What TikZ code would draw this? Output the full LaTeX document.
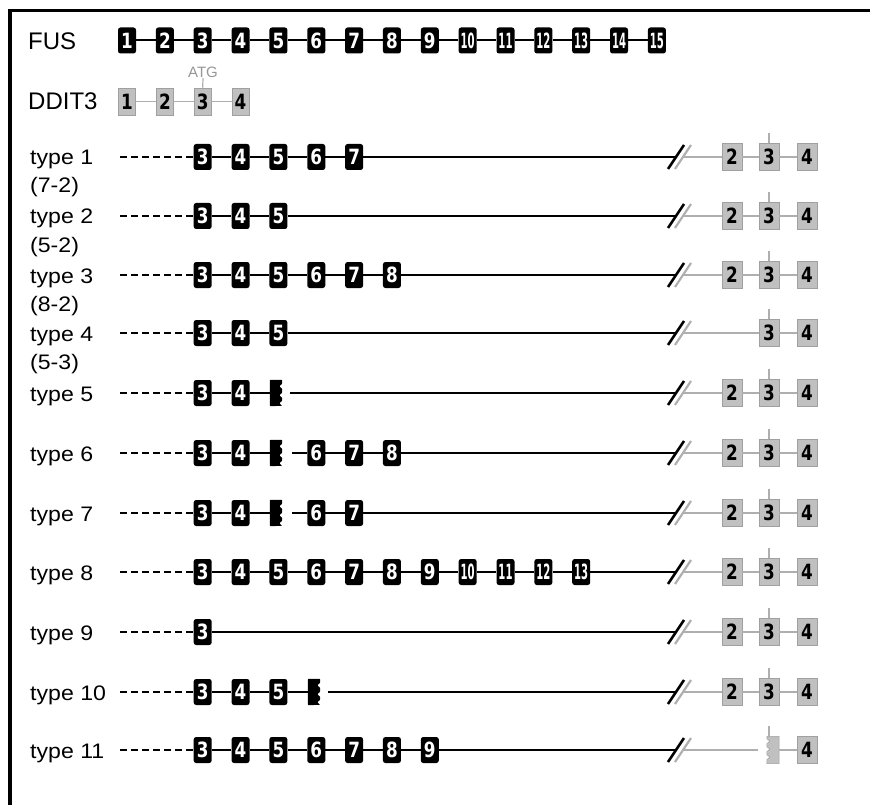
\documentclass[tikz,border=0pt]{standalone}
\usepackage{fontspec}
\setmainfont{Liberation Sans}
\newfontfamily\numfont[FakeStretch=0.8]{DejaVu Sans}
\newfontfamily\numfontn[FakeStretch=0.48]{DejaVu Sans}
\newfontfamily\labfont[FakeStretch=1.1]{Liberation Sans}
\definecolor{gbox}{RGB}{192,192,192}
\definecolor{gedge}{RGB}{160,160,160}
\definecolor{glinec}{RGB}{175,175,175}
\definecolor{atgc}{RGB}{150,150,150}
\newcommand\dg[1]{\ifnum#1>9 {\numfontn\bfseries #1}\else #1\fi}
\newcommand\exrow[5]{%
  \foreach \k in {#3,...,#5} \node[fexon] (#1e\k) at ({127+37.85*(\k-1)},#2) {\dg{\k}};
  \foreach \k [remember=\k as \p (initially #3)] in {#4,...,#5} \draw[conn] (#1e\p) -- (#1e\k);
}
\newcommand\startrow[3]{%
  \node[lab] (#1lab) at (30,{#2+8}) {#3};
  \coordinate (#1a) at (120,#2);
}
\newcommand\sublab[3]{\node[lab] (#1sub) at (30,{#2+36}) {#3};}
\newcommand\brk[2]{%
  \coordinate (#1bk) at (676,#2);
  \coordinate (#1bg) at (683,#2);
  \coordinate (#1s1) at (668,{#2+12}); \coordinate (#1s2) at (684,{#2-12});
  \coordinate (#1s3) at (675,{#2+12}); \coordinate (#1s4) at (691,{#2-12});
  \draw[brkb] (#1s1) -- (#1s2);
  \draw[brkg] (#1s3) -- (#1s4);
}
\newcommand\ddtail[2]{%
  \node[dexon] (#1d2) at (732,#2) {2};
  \node[dexon] (#1d3) at (769,#2) {3};
  \node[dexon] (#1d4) at (807,#2) {4};
  \draw[gln] (#1bg) -- (#1d2) -- (#1d3) -- (#1d4);
  \coordinate (#1tk) at (769,{#2-24});
  \draw[gln] (#1d3.north) -- (#1tk);
}
\newcommand\torn[1]{%
  \fill[black, rounded corners=0.8pt] (#1.north west) -- (#1.north east) -- ++(0,4) -- ++(-3,2.5) -- ++(3,2.5) -- ++(0,4) -- ++(-3,2.5) -- ++(3,2.5) -- ++(0,3) -- ++(-3,2.5) -- ++(3,2.5) -- (#1.south west) -- cycle;}
\newcommand\torng[1]{%
  \filldraw[fill=gbox, draw=gedge, line width=0.5pt] (#1.north east) -- (#1.south east) -- (#1.south west) -- ++(0,-4) -- ++(3,-2.5) -- ++(-3,-2.5) -- ++(0,-3) -- ++(3,-2.5) -- ++(-3,-2.5) -- ++(0,-3) -- ++(3,-2.5) -- ++(-3,-2.5) -- (#1.north west) -- cycle;}
\begin{document}
\begin{tikzpicture}[x=1pt,y=-1pt,
  fexon/.style={rectangle, fill=black, rounded corners=2.5pt, minimum width=18pt, minimum height=26pt, inner sep=0pt, text=white, font=\numfont\bfseries\fontsize{21}{21}\selectfont},
  dexon/.style={rectangle, fill=gbox, draw=gedge, line width=0.5pt, minimum width=20pt, minimum height=27pt, inner sep=0pt, text=black, font=\numfont\bfseries\fontsize{21}{21}\selectfont},
  dexons/.style={dexon, minimum width=17pt},
  lab/.style={anchor=base west, inner sep=0pt, font=\labfont\fontsize{21}{24}\selectfont},
  biglab/.style={anchor=base west, inner sep=0pt, font=\fontsize{24}{28}\selectfont},
  conn/.style={line width=2pt},
  mainln/.style={line width=2.6pt},
  dashln/.style={line width=2pt, dash pattern=on 6.5pt off 4.5pt},
  gln/.style={line width=1.8pt, draw=glinec},
  brkb/.style={line width=2.6pt},
  brkg/.style={line width=2.2pt, draw=glinec},
  trunc/.style={rectangle, minimum width=12pt, minimum height=26pt, inner sep=0pt},
  truncg/.style={rectangle, minimum width=12pt, minimum height=27pt, inner sep=0pt}]
\useasboundingbox (0,0) rectangle (870,805);
% frame
\coordinate (fa) at (10,805); \coordinate (fb) at (10,10.5); \coordinate (fc) at (870,10.5);
\draw[line width=3.5pt] (fa) -- (fb) -- (fc);
% FUS
\node[biglab] (fus) at (28,50) {FUS};
\exrow{f}{40.5}{1}{2}{15}
% DDIT3
\node[biglab] (ddit) at (28,110) {DDIT3};
\foreach \k in {1,...,4} \node[dexons] (d\k) at ({127+37.85*(\k-1)},101.5) {\k};
\draw[gln] (d1) -- (d2) -- (d3) -- (d4);
\node[text=atgc, font=\fontsize{15}{15}\selectfont, inner sep=0pt] (atg) at (203,72.5) {ATG};
\draw[gln, line width=1.2pt] (d3.north) -- (atg.south);
% type 1
\startrow{r1}{157}{type 1}\sublab{r1}{157}{(7-2)}
\exrow{r1}{157}{3}{4}{7}
\draw[dashln] (r1a) -- (r1e3);
\brk{r1}{157}
\draw[mainln] (r1e7) -- (r1bk);
\ddtail{r1}{157}
% type 2
\startrow{r2}{216}{type 2}\sublab{r2}{216}{(5-2)}
\exrow{r2}{216}{3}{4}{5}
\draw[dashln] (r2a) -- (r2e3);
\brk{r2}{216}
\draw[mainln] (r2e5) -- (r2bk);
\ddtail{r2}{216}
% type 3
\startrow{r3}{275}{type 3}\sublab{r3}{275}{(8-2)}
\exrow{r3}{275}{3}{4}{8}
\draw[dashln] (r3a) -- (r3e3);
\brk{r3}{275}
\draw[mainln] (r3e8) -- (r3bk);
\ddtail{r3}{275}
% type 4
\startrow{r4}{333}{type 4}\sublab{r4}{333}{(5-3)}
\exrow{r4}{333}{3}{4}{5}
\draw[dashln] (r4a) -- (r4e3);
\brk{r4}{333}
\draw[mainln] (r4e5) -- (r4bk);
\node[dexon] (r4d3) at (769,333) {3};
\node[dexon] (r4d4) at (807,333) {4};
\draw[gln] (r4bg) -- (r4d3) -- (r4d4);
\coordinate (r4tk) at (769,309);
\draw[gln] (r4d3.north) -- (r4tk);
% type 5
\startrow{r5}{393}{type 5}
\exrow{r5}{393}{3}{4}{4}
\draw[dashln] (r5a) -- (r5e3);
\node[trunc] (r5t) at (276,393) {};
\torn{r5t}
\draw[conn] (r5e4) -- (r5t.west);
\coordinate (r5r) at (290,393);
\brk{r5}{393}
\draw[mainln] (r5r) -- (r5bk);
\ddtail{r5}{393}
% type 6
\startrow{r6}{453}{type 6}
\exrow{r6}{453}{3}{4}{4}
\exrow{r6}{453}{6}{7}{8}
\draw[dashln] (r6a) -- (r6e3);
\node[trunc] (r6t) at (276,453) {};
\torn{r6t}
\draw[conn] (r6e4) -- (r6t.west);
\coordinate (r6r) at (292,453);
\draw[conn] (r6r) -- (r6e6);
\brk{r6}{453}
\draw[mainln] (r6e8) -- (r6bk);
\ddtail{r6}{453}
% type 7
\startrow{r7}{513}{type 7}
\exrow{r7}{513}{3}{4}{4}
\exrow{r7}{513}{6}{7}{7}
\draw[dashln] (r7a) -- (r7e3);
\node[trunc] (r7t) at (276,513) {};
\torn{r7t}
\draw[conn] (r7e4) -- (r7t.west);
\coordinate (r7r) at (292,513);
\draw[conn] (r7r) -- (r7e6);
\brk{r7}{513}
\draw[mainln] (r7e7) -- (r7bk);
\ddtail{r7}{513}
% type 8
\startrow{r8}{572}{type 8}
\exrow{r8}{572}{3}{4}{13}
\draw[dashln] (r8a) -- (r8e3);
\brk{r8}{572}
\draw[mainln] (r8e13) -- (r8bk);
\ddtail{r8}{572}
% type 9
\startrow{r9}{632}{type 9}
\node[fexon] (r9e3) at ({127+37.85*2},632) {3};
\draw[dashln] (r9a) -- (r9e3);
\brk{r9}{632}
\draw[mainln] (r9e3) -- (r9bk);
\ddtail{r9}{632}
% type 10
\startrow{r10}{692}{type 10}
\exrow{r10}{692}{3}{4}{5}
\draw[dashln] (r10a) -- (r10e3);
\node[trunc] (r10t) at (314,692) {};
\torn{r10t}
\draw[conn] (r10e5) -- (r10t.west);
\coordinate (r10r) at (328,692);
\brk{r10}{692}
\draw[mainln] (r10r) -- (r10bk);
\ddtail{r10}{692}
% type 11
\startrow{r11}{750}{type 11}
\exrow{r11}{750}{3}{4}{9}
\draw[dashln] (r11a) -- (r11e3);
\brk{r11}{750}
\draw[mainln] (r11e9) -- (r11bk);
\coordinate (r11ge) at (758,750);
\draw[gln] (r11bg) -- (r11ge);
\node[truncg] (r11t) at (773,750) {};
\torng{r11t}
\node[dexon] (r11d4) at (807,750) {4};
\draw[gln] (r11t.east) -- (r11d4);
\coordinate (r11tb) at (769,736.5);
\coordinate (r11tk) at (769,726);
\draw[gln] (r11tb) -- (r11tk);
\end{tikzpicture}
\end{document}
